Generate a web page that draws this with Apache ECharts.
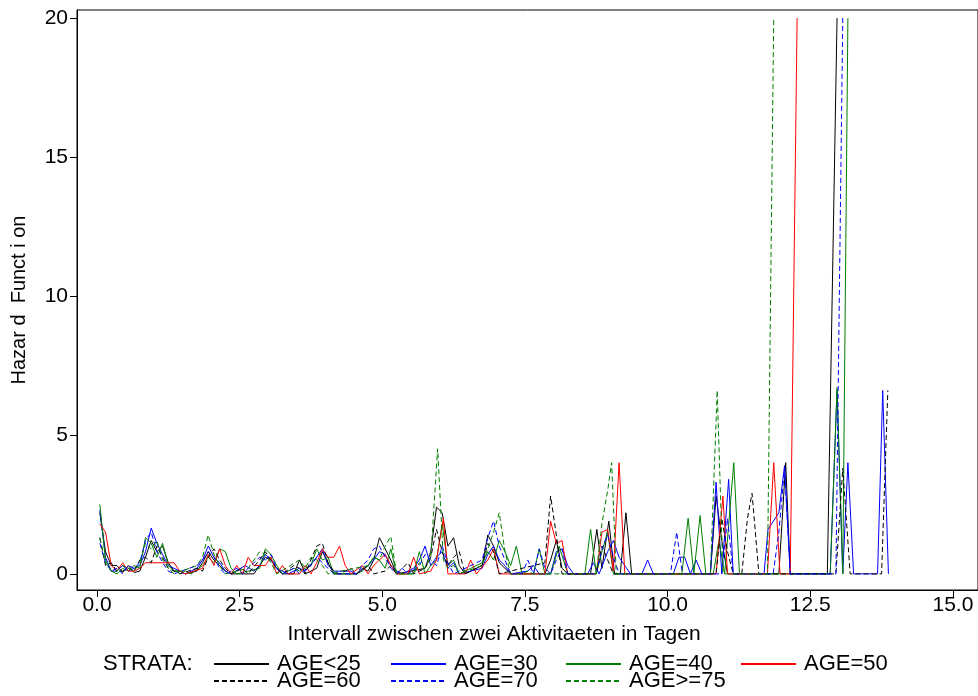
<!DOCTYPE html>
<html>
<head>
<meta charset="utf-8">
<title>Hazard Function</title>
<script src="https://cdn.jsdelivr.net/npm/echarts@6/dist/echarts.min.js"></script>
<style>
  html, body { margin: 0; padding: 0; background: #fff; }
  #chart { width: 978px; height: 696px; }
</style>
</head>
<body>
<div id="chart"></div>
<script>
// Estimated hazard per stratum: [interval midpoint in days, hazard]
const age25 = [[0.05,2.2],[0.15,0.8],[0.25,0.3],[0.35,0.3],[0.45,0.05],[0.55,0.3],[0.65,0.05],[0.75,0.1],[0.85,0.6],[0.95,1.2],[1.05,0.8],[1.15,1.0],[1.25,0.4],[1.35,0.1],[1.45,0.1],[1.55,0],[1.75,0.1],[1.85,0.4],[1.95,0.8],[2.05,0.5],[2.15,0.3],[2.25,0.1],[2.35,0],[2.75,0],[2.85,0.3],[2.95,0.6],[3.05,0.5],[3.15,0.2],[3.25,0],[3.45,0],[3.55,0.5],[3.65,0],[3.85,0.2],[3.95,0.8],[4.05,0.4],[4.15,0],[4.55,0],[4.65,0.2],[4.75,0.1],[4.85,0.5],[4.95,1.3],[5.05,0.9],[5.15,0.5],[5.25,0],[5.75,0.2],[5.85,0.8],[5.95,2.4],[6.05,2.2],[6.15,1.0],[6.25,1.3],[6.35,0.3],[6.45,0],[6.75,0.3],[6.85,1.4],[6.95,1.0],[7.05,0.4],[7.15,0.2],[7.25,0],[7.85,0],[7.95,0.5],[8.05,1.2],[8.15,0.2],[8.25,0],[8.65,0],[8.76,1.6],[8.85,0.2],[8.97,1.9],[9.07,0],[9.17,0],[9.27,2.2],[9.37,0],[10.75,0],[10.85,2.8],[10.95,1.2],[11.05,0],[11.95,0],[12.07,4.0],[12.15,0],[12.8,0],[12.97,20]];
const age30 = [[0.05,2.3],[0.15,0.6],[0.25,0.1],[0.35,0.1],[0.45,0.3],[0.55,0.1],[0.65,0.2],[0.75,0.3],[0.85,0.8],[0.95,1.65],[1.05,1.1],[1.15,0.7],[1.25,0.3],[1.35,0.2],[1.45,0.1],[1.55,0],[1.75,0.2],[1.85,0.5],[1.95,1.0],[2.05,0.6],[2.15,0.4],[2.25,0.1],[2.35,0],[2.6,0.3],[2.75,0.1],[2.85,0.3],[2.95,0.7],[3.05,0.5],[3.15,0.2],[3.25,0.1],[3.35,0],[3.55,0.2],[3.65,0.1],[3.85,0.6],[3.95,0.9],[4.05,0.3],[4.15,0.1],[4.45,0.1],[4.55,0],[4.75,0.3],[4.85,0.5],[4.95,0.8],[5.05,0.7],[5.15,0.3],[5.25,0.1],[5.35,0],[5.55,0.2],[5.65,0.5],[5.75,1.0],[5.85,0.3],[5.95,0.6],[6.05,0.8],[6.15,0.2],[6.25,0.4],[6.35,0],[6.75,0.2],[6.85,0.7],[6.95,1.0],[7.05,0.5],[7.15,0.3],[7.25,0],[7.55,0.1],[7.65,0.3],[7.75,0],[7.95,0],[8.05,0.8],[8.15,0.9],[8.25,0.3],[8.35,0],[8.6,0],[8.7,0.4],[8.8,0],[8.95,0.8],[9.05,1.2],[9.15,0.6],[9.25,0.3],[9.35,0],[9.55,0],[9.65,0.5],[9.75,0],[10.1,0],[10.2,0.6],[10.3,0.6],[10.4,0],[10.5,0.5],[10.6,0],[10.75,0],[10.85,3.3],[10.95,0],[11.07,3.4],[11.15,0],[11.69,0],[11.76,1.6],[11.95,2.2],[12.05,3.9],[12.15,0],[12.85,0],[12.97,6.6],[13.07,0],[13.16,4.0],[13.26,0],[13.68,0],[13.77,6.6],[13.87,0]];
const age40 = [[0.05,2.5],[0.15,0.5],[0.25,0.1],[0.35,0],[0.45,0.2],[0.55,0.1],[0.65,0.3],[0.75,0.2],[0.85,1.3],[0.95,1.1],[1.05,0.6],[1.15,1.1],[1.25,0.3],[1.35,0.1],[1.55,0.1],[1.65,0],[1.85,0.3],[1.95,0.6],[2.05,0.4],[2.15,0.9],[2.25,0.8],[2.35,0.2],[2.45,0],[2.85,0.2],[2.95,0.9],[3.05,0.7],[3.15,0.3],[3.25,0],[3.45,0.2],[3.55,0.1],[3.75,0.3],[3.85,0.9],[3.95,0.5],[4.05,0.6],[4.15,0],[4.55,0],[4.65,0.1],[4.75,0.3],[4.85,0.6],[4.95,0.5],[5.05,0.2],[5.15,0.9],[5.25,0],[5.55,0],[5.65,0.8],[5.75,0],[5.85,0.3],[5.95,0.5],[6.05,1.8],[6.15,0.3],[6.25,0.5],[6.35,0],[6.75,0.4],[6.85,0.8],[6.95,0.5],[7.05,1.2],[7.15,0.8],[7.25,0.3],[7.35,1.0],[7.45,0],[7.65,0],[7.75,0.9],[7.85,0],[7.95,0],[8.1,1.0],[8.25,0],[8.55,0],[8.65,1.6],[8.75,0],[8.85,0.8],[8.95,1.5],[9.05,0],[10.25,0],[10.36,2.0],[10.46,0],[10.57,2.1],[10.67,0],[10.8,0],[10.9,1.2],[11.0,0],[11.16,4.0],[11.26,0],[12.85,0],[12.97,6.7],[13.07,0],[13.16,20]];
const age50 = [[0.05,1.8],[0.15,1.5],[0.25,0.3],[0.35,0.1],[0.45,0.4],[0.55,0.1],[0.65,0.1],[0.75,0.2],[0.85,0.4],[0.95,0.4],[1.35,0.4],[1.45,0.1],[1.55,0],[1.85,0.2],[1.95,0.7],[2.05,0.3],[2.15,0.9],[2.25,0.3],[2.35,0],[2.45,0.3],[2.55,0],[2.65,0.6],[2.75,0.3],[2.95,0.3],[3.05,0.6],[3.15,0],[3.25,0.3],[3.35,0],[3.55,0],[3.65,0.3],[3.75,0],[3.85,0.4],[3.95,0.9],[4.05,0.6],[4.15,0.6],[4.25,1.0],[4.35,0.3],[4.45,0],[4.65,0.3],[4.75,0],[4.85,0.3],[5.05,0.7],[5.15,0.3],[5.25,0],[5.45,0],[5.55,0.6],[5.65,0],[5.85,0.1],[5.95,0.5],[6.07,2.0],[6.15,0],[6.45,0],[6.55,0.5],[6.65,0],[6.85,0.5],[6.95,0.9],[7.05,0],[7.85,0],[7.95,1.9],[8.05,1.1],[8.15,1.2],[8.25,0],[8.75,0],[8.85,1.5],[8.95,1.6],[9.05,0.1],[9.15,4.0],[9.25,0],[10.85,0],[10.97,2.8],[11.05,0],[11.75,0],[11.86,4.0],[11.97,0],[12.15,0],[12.27,20]];
const age60 = [[0.05,1.3],[0.15,0.3],[0.25,0.4],[0.35,0.1],[0.45,0.1],[0.55,0.2],[0.65,0.1],[0.75,0.5],[0.85,0.6],[0.95,0.4],[1.05,1.0],[1.15,0.6],[1.25,0.2],[1.35,0.1],[1.45,0],[1.75,0.2],[1.85,0.1],[1.95,0.6],[2.05,0.9],[2.15,0.5],[2.25,0.2],[2.35,0],[2.55,0.2],[2.65,0],[2.85,0.5],[2.95,0.8],[3.05,0.5],[3.15,0.2],[3.25,0],[3.45,0.3],[3.55,0.2],[3.65,0],[3.85,1.0],[3.95,1.1],[4.05,0.4],[4.15,0.1],[4.25,0],[4.45,0.2],[4.55,0],[4.75,0.3],[4.85,0],[5.05,0.1],[5.15,0.3],[5.25,0],[5.45,0.4],[5.55,0],[5.75,0.2],[5.85,0.6],[5.95,1.6],[6.05,0.8],[6.15,0.3],[6.25,0.6],[6.35,0.8],[6.45,0],[6.75,0.3],[6.85,1.1],[6.95,0.8],[7.05,0],[7.85,0.4],[7.95,2.8],[8.05,1.4],[8.15,0],[8.75,0],[8.85,1.0],[8.95,0.5],[9.05,0],[10.85,0],[10.95,2.0],[11.05,0.8],[11.15,0],[11.3,0],[11.4,2.0],[11.48,2.9],[11.6,0],[12.95,0],[13.07,3.8],[13.2,0],[13.75,0],[13.86,6.6]];
const age70 = [[0.05,1.1],[0.15,0.4],[0.25,0.1],[0.35,0.2],[0.45,0],[0.55,0.3],[0.65,0.2],[0.75,0.4],[0.85,1.2],[0.95,1.5],[1.05,0.8],[1.15,0.4],[1.25,0.1],[1.35,0],[1.75,0.3],[1.85,0.5],[1.95,0.8],[2.05,0.6],[2.15,0.2],[2.25,0],[2.45,0.2],[2.55,0],[2.75,0.4],[2.85,0.6],[2.95,0.5],[3.05,0.7],[3.15,0.2],[3.25,0],[3.45,0.2],[3.55,0],[3.75,0.3],[3.85,0.6],[3.95,0.4],[4.05,0.2],[4.15,0],[4.55,0],[4.65,0.3],[4.75,0.5],[4.85,0.9],[4.95,1.0],[5.05,0.6],[5.15,0.2],[5.25,0],[5.35,0.2],[5.45,0],[5.65,0.3],[5.75,0.7],[5.85,0.5],[5.95,0.3],[6.05,1.0],[6.15,0.4],[6.25,0],[6.75,0.5],[6.85,1.3],[6.95,1.9],[7.05,1.0],[7.15,0.5],[7.25,0],[7.45,0],[7.55,0.5],[7.65,0],[7.75,0.9],[7.85,0.2],[7.95,0],[8.05,0.5],[8.15,0.9],[8.25,0],[8.75,0],[8.85,0.9],[8.95,1.4],[9.05,0.6],[9.15,0],[10.05,0],[10.16,1.5],[10.26,0],[10.95,0],[11.05,2.0],[11.15,0],[11.85,0],[11.95,1.5],[12.05,3.8],[12.15,0],[12.95,0],[13.07,20]];
const age75 = [[0.05,1.3],[0.15,0.4],[0.25,0.1],[0.35,0.1],[0.45,0.3],[0.55,0.2],[0.65,0.1],[0.75,0.4],[0.85,1.1],[0.95,0.9],[1.05,1.2],[1.15,0.5],[1.25,0.2],[1.35,0],[1.75,0.3],[1.85,0.6],[1.95,1.4],[2.05,0.7],[2.15,0.3],[2.25,0],[2.65,0.2],[2.75,0.5],[2.85,0.8],[2.95,0.7],[3.05,0.4],[3.15,0],[3.55,0.5],[3.65,0.2],[3.75,0.6],[3.85,0.5],[3.95,0.3],[4.05,0],[4.75,0.3],[4.85,0.6],[4.95,0.5],[5.05,1.0],[5.15,1.35],[5.25,0],[5.55,0],[5.65,0.4],[5.75,0.2],[5.85,0.6],[5.97,4.5],[6.07,0.5],[6.15,0.2],[6.25,0.3],[6.35,0],[6.75,0.3],[6.85,0.9],[6.95,1.5],[7.05,2.2],[7.15,0.8],[7.25,0],[7.45,0],[7.55,0.1],[7.65,0],[8.75,0],[8.85,1.8],[8.95,3.0],[9.02,4.0],[9.1,0],[10.75,0],[10.87,6.6],[10.97,0],[11.75,0],[11.86,20]];

const strataNames = ['AGE<25', 'AGE=30', 'AGE=40', 'AGE=50', 'AGE=60', 'AGE=70', 'AGE>=75'];
const strataData = [age25, age30, age40, age50, age60, age70, age75];
const strataColors = ['#000000', '#0000ff', '#008000', '#ff0000', '#000000', '#0000ff', '#008000'];
const strataDashed = [false, false, false, false, true, true, true];

const xTicks = [0, 2.5, 5, 7.5, 10, 12.5, 15];
const yTicks = [0, 5, 10, 15, 20];

const FONT = '"Liberation Sans", Arial, sans-serif';

// legend slots: [left, top] of each entry
const legendSlots = [[213, 653], [390, 653], [565, 653], [740, 653], [213, 670], [390, 670], [565, 670]];

const chart = echarts.init(document.getElementById('chart'), null, { renderer: 'canvas' });

const series = strataNames.map((name, i) => ({
  name: name,
  type: 'line',
  data: strataData[i],
  symbol: 'none',
  showSymbol: false,
  clip: true,
  lineStyle: {
    color: strataColors[i],
    width: 1,
    type: strataDashed[i] ? [5, 3] : 'solid'
  },
  itemStyle: { color: strataColors[i] },
  emphasis: { disabled: true }
}));

const legends = strataNames.map((name, i) => ({
  data: [name],
  left: legendSlots[i][0],
  top: legendSlots[i][1],
  padding: 0,
  itemWidth: 55,
  itemHeight: 14,
  itemGap: 0,
  selectedMode: false,
  itemStyle: { opacity: 0 },
  textStyle: { fontFamily: FONT, fontSize: 22, color: '#000', padding: [0, 0, 0, 3], lineHeight: 22 }
}));

chart.setOption({
  animation: false,
  backgroundColor: '#ffffff',
  grid: {
    left: 77, right: -1, top: 10, bottom: 106,
    show: true, borderColor: '#000', borderWidth: 1, backgroundColor: 'transparent'
  },
  xAxis: {
    type: 'value',
    min: -0.35,
    max: 15.44,
    axisLine: { show: true, onZero: false, lineStyle: { color: '#000', width: 1 } },
    axisTick: { show: true, length: 7, customValues: xTicks, lineStyle: { color: '#000' } },
    axisLabel: {
      customValues: xTicks,
      margin: 5,
      fontFamily: FONT, fontSize: 21, color: '#000',
      formatter: v => v.toFixed(1)
    },
    splitLine: { show: false }
  },
  yAxis: {
    type: 'value',
    min: -0.58,
    max: 20.29,
    name: 'Hazar d  Funct i on',
    nameLocation: 'middle',
    nameGap: 48,
    nameTextStyle: { fontFamily: FONT, fontSize: 20, color: '#000' },
    axisLine: { show: true, onZero: false, lineStyle: { color: '#000', width: 1 } },
    axisTick: { show: true, length: 7, customValues: yTicks, lineStyle: { color: '#000' } },
    axisLabel: {
      customValues: yTicks,
      margin: 9,
      fontFamily: FONT, fontSize: 21, color: '#000',
      formatter: v => String(v)
    },
    splitLine: { show: false }
  },
  legend: legends,
  graphic: [{
    type: 'text',
    x: 494,
    y: 634,
    style: {
      text: 'Intervall zwischen zwei Aktivitaeten in Tagen',
      font: '21px ' + FONT, fill: '#000', align: 'center', verticalAlign: 'middle'
    }
  }, {
    type: 'text',
    left: 103,
    top: 653,
    style: { text: 'STRATA:', font: '22px ' + FONT, fill: '#000', lineHeight: 22 }
  }],
  series: series
});
</script>
</body>
</html>
